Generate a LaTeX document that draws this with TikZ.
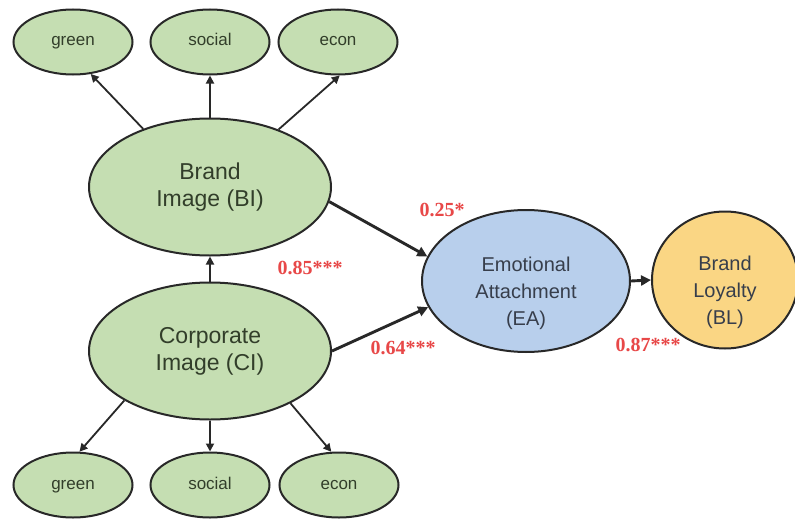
\documentclass[tikz,border=0pt]{standalone}
\usepackage{fontspec}
\setmainfont{Liberation Sans}
\newfontfamily\labelfont{Liberation Serif}
\usetikzlibrary{shapes.geometric,arrows.meta}
\definecolor{greenfill}{RGB}{197,222,178}
\definecolor{bluefill}{RGB}{184,207,236}
\definecolor{yellowfill}{RGB}{250,214,132}
\definecolor{edgegray}{RGB}{40,40,40}
\definecolor{txtgreen}{RGB}{50,62,42}
\definecolor{txtblue}{RGB}{55,62,75}
\definecolor{coefred}{RGB}{232,72,72}
\tikzset{
  latent/.style={ellipse, draw=edgegray, line width=2pt, inner sep=0pt, align=center},
  indicator/.style={latent, fill=greenfill, minimum width=119pt, minimum height=65pt,
    font=\fontsize{17}{19}\selectfont, text=txtgreen, text height=11pt, text depth=3pt},
  construct/.style={latent, fill=greenfill, minimum width=242pt, minimum height=137pt,
    font=\fontsize{23}{27}\selectfont, text=txtgreen},
  caption/.style={align=center, font=\fontsize{20}{27}\selectfont, text=txtblue},
  link/.style={draw=edgegray, line width=1.8pt, -{Triangle[length=8pt,width=8pt]}},
  mainlink/.style={draw=edgegray, line width=2.9pt, -{Triangle[length=10pt,width=10pt]}},
  coef/.style={font=\labelfont\bfseries\fontsize{20}{22}\selectfont, text=coefred}
}
\begin{document}
\begin{tikzpicture}[x=1pt,y=-1pt]
\useasboundingbox (0,0) rectangle (795,519);
\fill[white] (0,0) rectangle (795,519);

% first-order constructs
\node[construct] (BI) at (210,187) {Brand\\Image (BI)};
\node[construct] (CI) at (210,351) {Corporate\\Image (CI)};
\node[latent, fill=bluefill, minimum width=208pt, minimum height=142pt] (EA) at (526,281) {};
\node[latent, fill=yellowfill, minimum width=146pt, minimum height=137pt] (BL) at (725,280) {};
\node[caption] (EAtext) at (526,293) {Emotional\\Attachment\\(EA)};
\node[caption] (BLtext) at (725,292) {Brand\\Loyalty\\(BL)};

% indicators of brand image
\node[indicator] (bg) at (73,42) {green};
\node[indicator] (bs) at (210,42) {social};
\node[indicator] (be) at (338,42) {econ};

% indicators of corporate image
\node[indicator] (cg) at (73,485) {green};
\node[indicator] (cs) at (210,485) {social};
\node[indicator] (ce) at (339,485) {econ};

% measurement paths
\draw[link] (BI.139) -- (bg.-61);
\draw[link] (BI.north) -- (bs.south);
\draw[link] (BI.40) -- (be.-87);
\draw[link] (CI.-150) -- (cg.79);
\draw[link] (CI.south) -- (cs.north);
\draw[link] (CI.-33) -- (ce.103);

% structural paths
\draw[link] (CI.north) -- (BI.south);
\draw[mainlink] (BI.-7) -- (EA.166);
\draw[mainlink] (CI.0) -- (EA.-165);
\draw[mainlink] (EA.east) -- (BL.west);

% path coefficients
\node[coef] (c1) at (442,210) {0.25*};
\node[coef] (c2) at (310,268) {0.85***};
\node[coef] (c3) at (403,348) {0.64***};
\node[coef] (c4) at (648,345) {0.87***};
\end{tikzpicture}
\end{document}
